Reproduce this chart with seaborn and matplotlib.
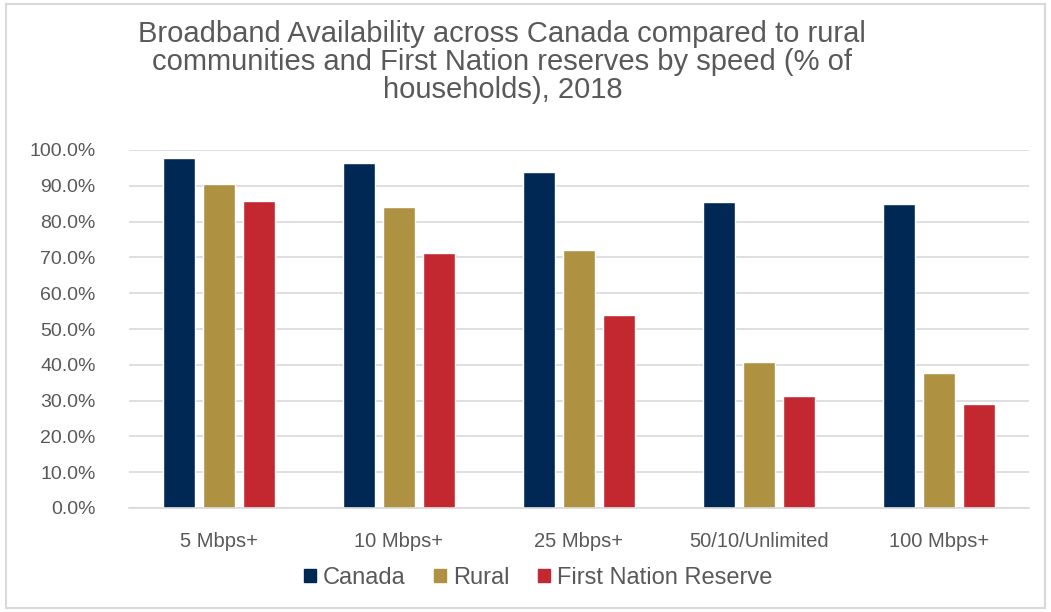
import pandas as pd
import seaborn as sns
import matplotlib.pyplot as plt
from matplotlib.patches import Rectangle
from matplotlib.ticker import FuncFormatter

# data
speeds = ["5 Mbps+", "10 Mbps+", "25 Mbps+", "50/10/Unlimited", "100 Mbps+"]
canada = [97.8, 96.5, 93.8, 85.6, 85.0]
rural = [90.5, 84.0, 72.0, 40.8, 37.6]
first_nation = [85.8, 71.2, 53.8, 31.3, 29.1]
groups = ["Canada", "Rural", "First Nation Reserve"]
colors = ["#002855", "#AF9142", "#C32830"]

df = pd.DataFrame({
    "Speed": speeds * 3,
    "Group": [g for g in groups for _ in speeds],
    "Value": canada + rural + first_nation,
})

sns.set_style("white")
plt.rcParams["font.family"] = ["Liberation Sans", "DejaVu Sans"]

fig = plt.figure(figsize=(10.51, 6.12), dpi=100)
ax = fig.add_axes([129 / 1051, 1 - 508 / 612, 900 / 1051, 358 / 612])

sns.barplot(
    data=df, x="Speed", y="Value", hue="Group",
    order=speeds, hue_order=groups, palette=colors,
    width=0.667, gap=0.2, saturation=1, ax=ax, legend=False,
)

ax.set_ylim(0, 100)
ax.set_yticks(range(0, 101, 10))
ax.yaxis.set_major_formatter(FuncFormatter(lambda v, _: f"{v:.1f}%"))
ax.grid(axis="y", color="#d9d9d9", linewidth=1.2)
ax.set_axisbelow(True)
for s in ["top", "right", "left"]:
    ax.spines[s].set_visible(False)
ax.spines["bottom"].set_color("#d9d9d9")
ax.spines["bottom"].set_linewidth(1.2)
ax.tick_params(axis="y", length=0, labelsize=14, labelcolor="#595959", pad=24)
ax.tick_params(axis="x", length=0, labelsize=14.5, labelcolor="#595959", pad=17)
ax.set_xlabel("")
ax.set_ylabel("")

fig.text(0.478, 0.968,
         "Broadband Availability across Canada compared to rural\n"
         "communities and First Nation reserves by speed (% of\n"
         "households), 2018",
         ha="center", va="top", fontsize=21, color="#595959", linespacing=1.0)

handles = [Rectangle((0, 0), 1, 1, color=c) for c in colors]
fig.legend(handles, groups, loc="center", bbox_to_anchor=(0.512, 0.056), ncol=3,
           frameon=False, fontsize=17, labelcolor="#595959",
           handlelength=0.5, handleheight=0.5, handletextpad=0.3, columnspacing=1.2)

fig.patches.append(Rectangle((0.006, 0.006), 0.988, 0.988, transform=fig.transFigure,
                             fill=False, edgecolor="#d9d9d9", linewidth=1.5))

fig.savefig("out.png", dpi=100)
